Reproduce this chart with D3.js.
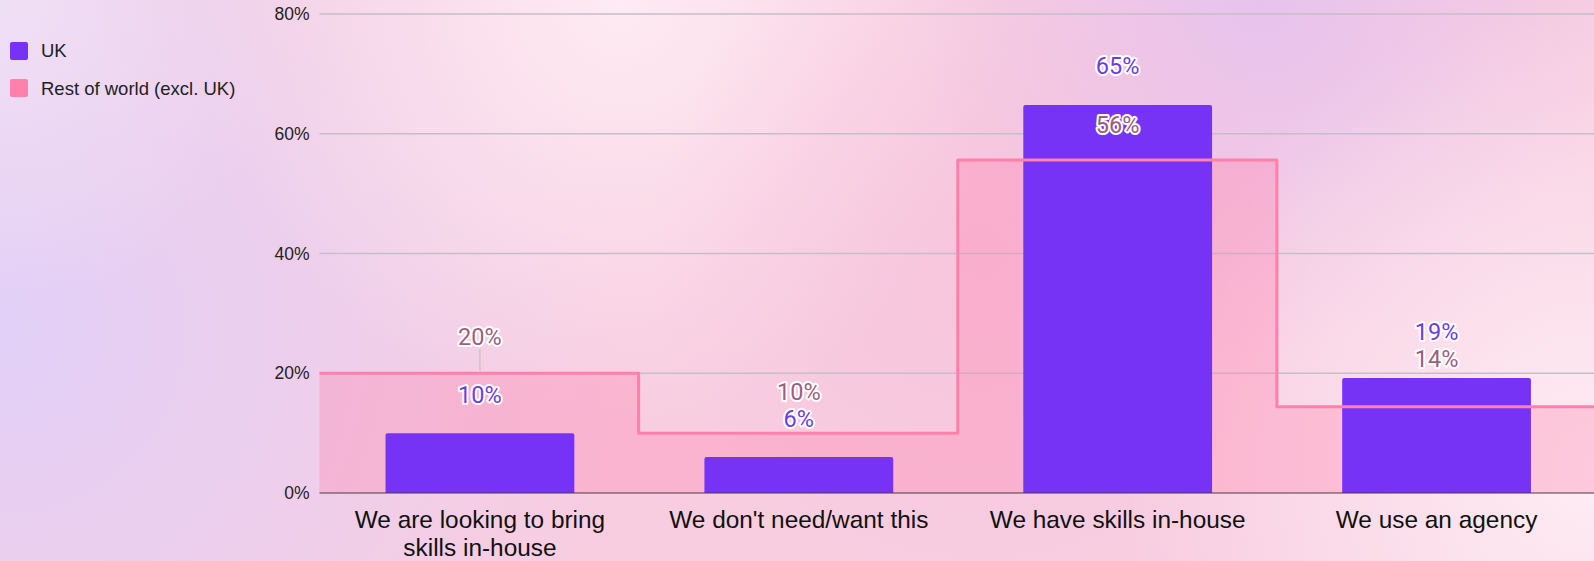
<!DOCTYPE html>
<html><head><meta charset="utf-8">
<script src="https://cdn.jsdelivr.net/npm/d3@7"></script>
<style>html,body{margin:0;padding:0;overflow:hidden;background:#f8d0e2}</style>
</head><body><svg id="c" width="1594" height="561"></svg>
<script>
// ---- data ----
const categories = ["We are looking to bring skills in-house", "We don't need/want this", "We have skills in-house", "We use an agency"];
const ukValues = [10, 6, 64.8, 19.2];
const rowValues = [20, 10, 55.6, 14.4];
const seriesNames = ["UK", "Rest of world (excl. UK)"];
const yTicks = [0, 20, 40, 60, 80];
const yTickLabels = ["0%", "20%", "40%", "60%", "80%"];

// ---- layout (not data) ----
const W = 1594, H = 561;
const plotLeft = 319.5, plotRight = 1596, plotTop = 14, plotBottom = 493;
const ukLabelDy = [-30, -30, -31.5, -38];
const rowLabelDy = [-28, -33, -27.4, -39.5];
const rowLeader = [true, false, false, false];
const colUK = "#7733f5", colRow = "#ff80ab";
const pct = v => d3.format(".0f")(v) + "%";

const svg = d3.select("#c");
const defs = svg.append("defs");

// background
function radial(id, cx, cy, r, color, op) {
  const g = defs.append("radialGradient").attr("id", id).attr("gradientUnits", "userSpaceOnUse")
    .attr("cx", cx).attr("cy", cy).attr("r", r);
  g.append("stop").attr("offset", 0).attr("stop-color", color).attr("stop-opacity", op);
  g.append("stop").attr("offset", 1).attr("stop-color", color).attr("stop-opacity", 0);
  svg.append("rect").attr("width", W).attr("height", H).attr("fill", `url(#${id})`);
}
svg.append("rect").attr("width", W).attr("height", H).attr("fill", "#f8cde0");
radial("g1", 0, 330, 620, "#e2d0f8", 1);
radial("g2", 620, 0, 420, "#fff0f6", 0.85);
radial("g3", 1260, 0, 360, "#e6c2ee", 0.95);
radial("g4", 1594, 470, 470, "#fff0f6", 0.9);
radial("g5", 980, 250, 330, "#f6bcd8", 0.5);
radial("g6", 0, 0, 300, "#f0e4f8", 0.8);

// scales
const xStep = d3.scaleBand().domain(categories).range([plotLeft, plotRight]).padding(0);
const x = d3.scaleBand().domain(categories).range([plotLeft + 1, plotRight]).paddingInner(0.408).paddingOuter(0.204);
const y = d3.scaleLinear().domain([0, 80]).range([plotBottom, plotTop]);

// gridlines
const yAxis = d3.axisLeft(y).tickValues(yTicks).tickFormat((d, i) => yTickLabels[i]).tickSize(0).tickPadding(10);
const ga = svg.append("g").attr("transform", `translate(${plotLeft},0)`).call(yAxis);
ga.select(".domain").remove();
ga.selectAll("text").attr("font-family", "'Liberation Sans', Arial, sans-serif").attr("font-size", 17.5).attr("fill", "#222");
svg.append("g").selectAll("line").data(yTicks.filter(d => d > 0)).join("line")
  .attr("x1", plotLeft).attr("x2", W).attr("y1", d => y(d)).attr("y2", d => y(d))
  .attr("stroke", "#c6bec8").attr("stroke-width", 1.6);

// step area (rest of world)
const stepPts = categories.map((c, i) => [xStep(c), rowValues[i]]);
stepPts.push([plotRight, rowValues[rowValues.length - 1]]);
const area = d3.area().curve(d3.curveStepAfter).x(d => d[0]).y0(y(0)).y1(d => y(d[1]));
svg.append("path").attr("d", area(stepPts)).attr("fill", colRow).attr("fill-opacity", 0.32);

// bars (UK)
svg.append("g").selectAll("path").data(categories).join("path")
  .attr("d", (c, i) => {
    const x0 = x(c), w = x.bandwidth(), y0 = y(ukValues[i]), yb = y(0), r = 2;
    return `M${x0},${yb}V${y0 + r}Q${x0},${y0} ${x0 + r},${y0}H${x0 + w - r}Q${x0 + w},${y0} ${x0 + w},${y0 + r}V${yb}Z`;
  })
  .attr("fill", colUK);

// baseline
svg.append("line").attr("x1", plotLeft).attr("x2", W).attr("y1", y(0)).attr("y2", y(0))
  .attr("stroke", "#4b3a46").attr("stroke-width", 1.2);

// step line
const line = d3.line().curve(d3.curveStepAfter).x(d => d[0]).y(d => y(d[1]));
svg.append("path").attr("d", line(stepPts)).attr("fill", "none").attr("stroke", colRow)
  .attr("stroke-width", 3).attr("stroke-linejoin", "round");

// data labels
const cx = c => x(c) + x.bandwidth() / 2;
function dataLabel(xp, yp, txt, color) {
  svg.append("text").attr("x", xp).attr("y", yp).attr("text-anchor", "middle")
    .attr("font-family", "Roboto, sans-serif").attr("font-size", 23.5).attr("fill", color)
    .attr("stroke", "#fff").attr("stroke-width", 4).attr("stroke-linejoin", "round")
    .attr("paint-order", "stroke").text(txt);
}
categories.forEach((c, i) => {
  if (rowLeader[i]) {
    svg.append("line").attr("x1", cx(c)).attr("x2", cx(c))
      .attr("y1", y(rowValues[i]) + rowLabelDy[i] + 4).attr("y2", y(rowValues[i]) - 2)
      .attr("stroke", "#c8c0c6").attr("stroke-width", 1.2);
  }
  dataLabel(cx(c), y(rowValues[i]) + rowLabelDy[i], pct(rowValues[i]), "#9b5f7e");
  dataLabel(cx(c), y(ukValues[i]) + ukLabelDy[i], pct(ukValues[i]), "#6a3ee6");
});

// category labels (wrapped)
const catG = svg.append("g");
categories.forEach((c, i) => {
  const t = catG.append("text").attr("x", cx(c)).attr("y", 528).attr("text-anchor", "middle")
    .attr("font-family", "'Liberation Sans', Arial, sans-serif").attr("font-size", 24.4).attr("fill", "#111");
  const words = c.split(" ");
  let lineWords = [];
  let ts = t.append("tspan").attr("x", cx(c)).attr("dy", 0);
  words.forEach(wd => {
    lineWords.push(wd);
    ts.text(lineWords.join(" "));
    if (ts.node().getComputedTextLength() > 280 && lineWords.length > 1) {
      lineWords.pop();
      ts.text(lineWords.join(" "));
      lineWords = [wd];
      ts = t.append("tspan").attr("x", cx(c)).attr("dy", 28).text(wd);
    }
  });
});

// legend
const lg = svg.append("g");
[colUK, colRow].forEach((col, i) => {
  lg.append("rect").attr("x", 10).attr("y", 42 + i * 37).attr("width", 18).attr("height", 18).attr("rx", 2).attr("fill", col);
  lg.append("text").attr("x", 41).attr("y", 57 + i * 38).attr("font-family", "'Liberation Sans', Arial, sans-serif")
    .attr("font-size", 18.5).attr("fill", "#222").text(seriesNames[i]);
});
</script></body></html>
